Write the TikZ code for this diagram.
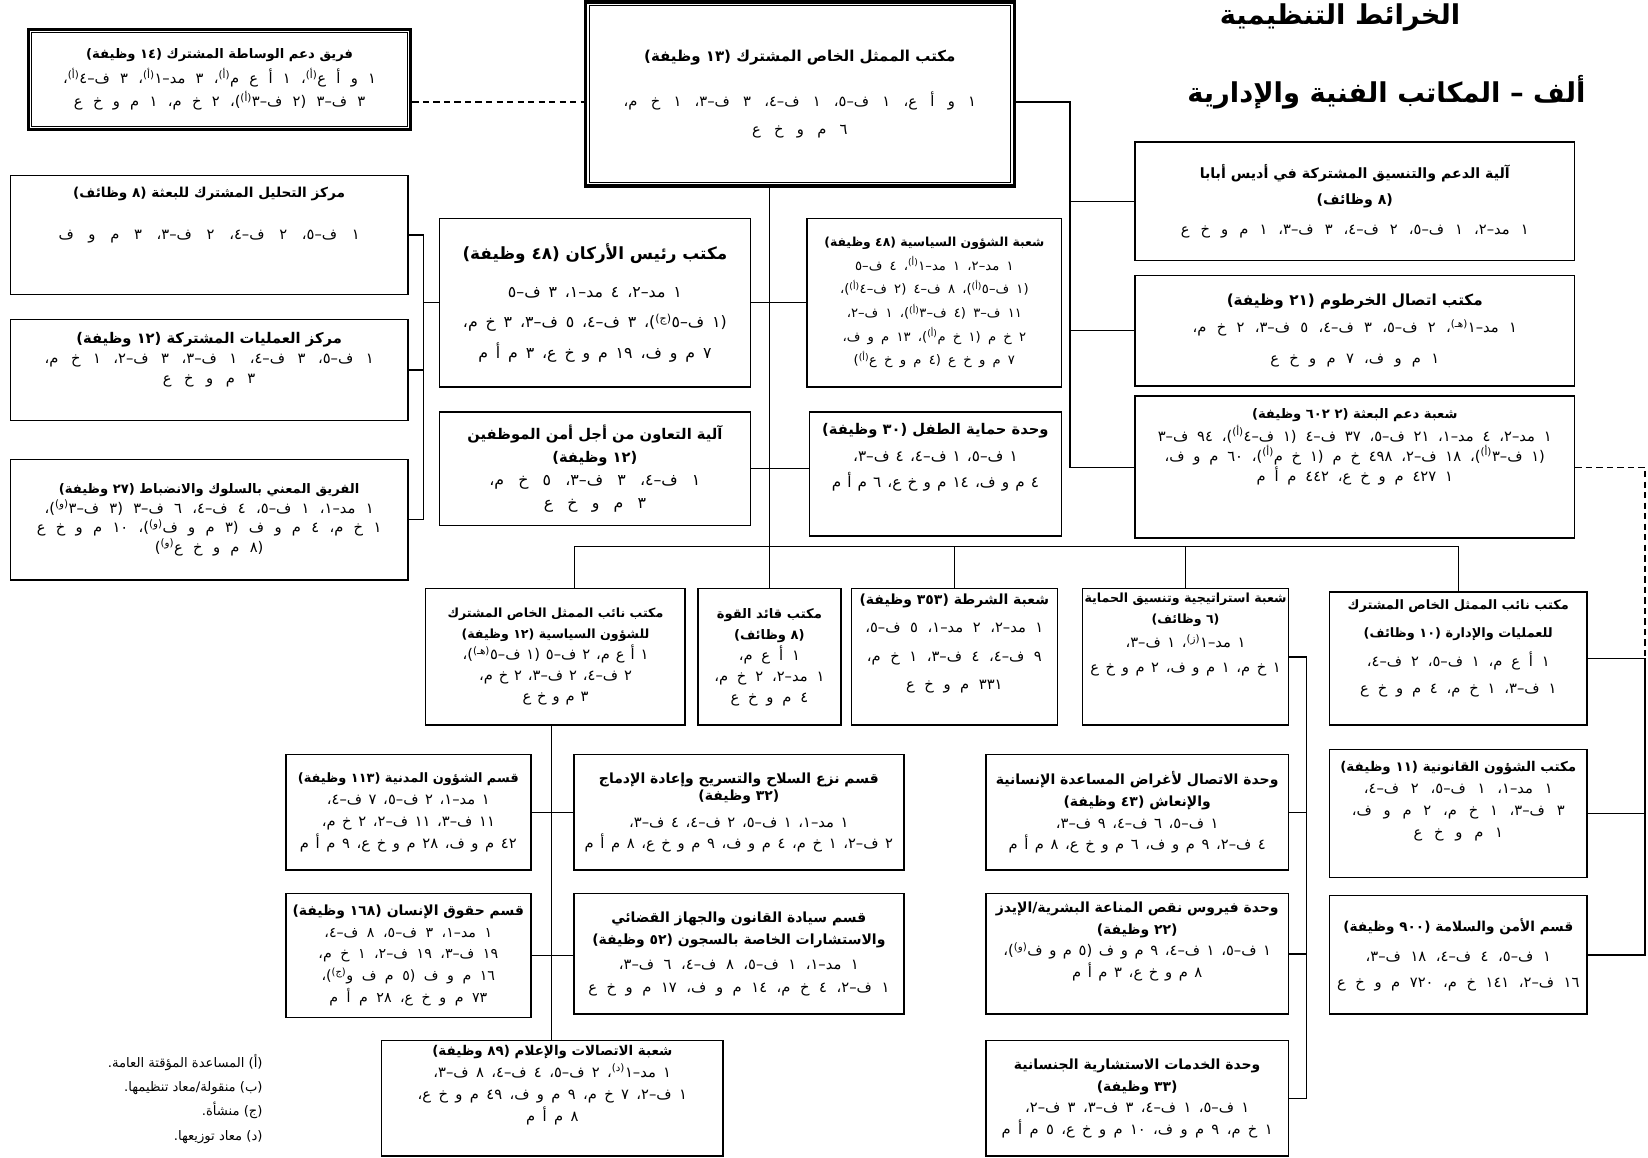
\documentclass[tikz,border=0pt]{standalone}
\usepackage{fontspec}
\newfontfamily\arf[Script=Arabic]{DejaVu Sans}
\TeXXeTstate=1
\newcommand\rl[1]{\beginR #1\endR}
\newcommand\ttl[2][12.5]{{\fontsize{#1}{#1}\selectfont\bfseries\spaceskip=0pt\relax\beginR #2\endR}}
\newcommand\fnm[1]{\textsuperscript{(#1)}}
\newcommand\bfnt[3]{\arf\fontsize{#1}{#2}\selectfont\spaceskip=#3em plus .1em minus .05em\relax}
\begin{document}
\begin{tikzpicture}[x=1pt, y=-1pt,
    box/.style={draw, line width=1.5pt, inner sep=1pt, align=center, font=\bfnt{14}{19}{0.6}},
    dbox/.style={box, line width=2.8pt},
    conn/.style={line width=1.3pt},
    dconn/.style={line width=1.3pt, dash pattern=on 6pt off 4pt}]
  \path[fill=white] (0,0) rectangle (1568,1101);
  \useasboundingbox (0,0) rectangle (1568,1101);

  \node (ttla) [font=\arf\bfseries\fontsize{26}{30}\selectfont] at (1275,17) {\rl{الخرائط التنظيمية}};
  \node (ttlb) [font=\arf\bfseries\fontsize{26}{30}\selectfont, anchor=east] at (1512,88) {\rl{ألف –  المكاتب الفنية والإدارية}};

  \node (med) [dbox, font=\bfnt{14}{22}{0.7}, minimum width=364pt, minimum height=95pt] at (209,75.5) {\ttl[12.5]{فريق دعم الوساطة المشترك (١٤ وظيفة)}\\[2pt]
    \rl{١ و أ ع\fnm{أ}، ١ أ ع م\fnm{أ}، ٣ مد–١\fnm{أ}، ٣ ف–٤\fnm{أ}،}\\
    \rl{٣ ف–٣ (٢ ف–٣\fnm{أ})، ٢ خ م، ١ م و خ ع}};
  \node (main) [dbox, line width=3.2pt, font=\bfnt{14}{19}{0.9}, minimum width=408pt, minimum height=175pt] at (761,89.5) {\ttl[14.3]{مكتب الممثل الخاص المشترك (١٣ وظيفة)}\\[24pt]
    \rl{١ و أ ع، ١ ف–٥، ١ ف–٤، ٣ ف–٣، ١ خ م،}\\[8pt]
    \rl{٦ م و خ ع}};

  \node (anal) [box, font=\bfnt{14}{19}{1.0}, minimum width=378pt, minimum height=113pt] at (199,223.5) {\ttl[13]{مركز التحليل المشترك للبعثة (٨ وظائف)}\\[21pt]
    \rl{١ ف–٥، ٢ ف–٤، ٢ ف–٣، ٣ م و ف}\\[22pt]};
  \node (jops) [box, font=\bfnt{14}{19}{0.85}, minimum width=378pt, minimum height=96pt] at (199,352) {\ttl[14]{مركز العمليات المشتركة (١٢ وظيفة)}\\
    \rl{١ ف–٥، ٣ ف–٤، ١ ف–٣، ٣ ف–٢، ١ خ م،}\\
    \rl{٣ م و خ ع}\\[4pt]};
  \node (cdt) [box, font=\bfnt{14}{18.5}{0.7}, minimum width=378pt, minimum height=115pt] at (199,494.5) {\ttl[12.5]{الفريق المعني بالسلوك والانضباط (٢٧ وظيفة)}\\
    \rl{١ مد–١، ١ ف–٥، ٤ ف–٤، ٦ ف–٣ (٣ ف–٣\fnm{و})،}\\
    \rl{١ خ م، ٤ م و ف (٣ م و ف\fnm{و})، ١٠ م و خ ع}\\
    \rl{(٨ م و خ ع\fnm{و})}};

  \node (cos) [box, font=\bfnt{15}{21}{0.5}, minimum width=296pt, minimum height=160pt] at (566,288) {\ttl[16]{مكتب رئيس الأركان (٤٨ وظيفة)}\\[15pt]
    \rl{١ مد–٢، ٤ مد–١، ٣ ف–٥}\\[8pt]
    \rl{(١ ف–٥\fnm{ج})، ٣ ف–٤، ٥ ف–٣، ٣ خ م،}\\[8pt]
    \rl{٧ م و ف، ١٩ م و خ ع، ٣ م أ م}};
  \node (pa) [box, font=\bfnt{12.5}{22.5}{0.55}, minimum width=242pt, minimum height=160pt] at (889,288) {\ttl[11.8]{شعبة الشؤون السياسية (٤٨ وظيفة)}\\
    \rl{١ مد–٢، ١ مد–١\fnm{أ}، ٤ ف–٥}\\
    \rl{(١ ف–٥\fnm{أ})، ٨ ف–٤ (٢ ف–٤\fnm{أ})،}\\
    \rl{١١ ف–٣ (٤ ف–٣\fnm{أ})، ١ ف–٢،}\\
    \rl{٢ خ م (١ خ م\fnm{أ})، ١٣ م و ف،}\\
    \rl{٧ م و خ ع (٤ م و خ ع\fnm{أ})}};
  \node (ssm) [box, font=\bfnt{15}{22}{0.9}, minimum width=296pt, minimum height=108pt] at (566,446) {\ttl[14]{آلية التعاون من أجل أمن الموظفين}\\
    \ttl[14]{(١٢ وظيفة)}\\
    \rl{١ ف–٤، ٣ ف–٣، ٥ خ م،}\\
    \rl{٣ م و خ ع}};
  \node (cpu) [box, font=\bfnt{14.5}{25}{0.4}, minimum width=240pt, minimum height=118pt] at (890,451) {\ttl[14]{وحدة حماية الطفل (٣٠ وظيفة)}\\
    \rl{١ ف–٥، ١ ف–٤، ٤ ف–٣،}\\
    \rl{٤ م و ف، ١٤ م و خ ع، ٦ م أ م}\\[10pt]};

  \node (addis) [box, font=\bfnt{14}{19}{0.75}, minimum width=418pt, minimum height=113pt] at (1289,191.5) {\ttl[13.5]{آلية الدعم والتنسيق المشتركة في أديس أبابا}\\[6pt]
    \ttl[13.5]{(٨ وظائف)}\\[10pt]
    \rl{١ مد–٢، ١ ف–٥، ٢ ف–٤، ٣ ف–٣، ١ م و خ ع}};
  \node (khart) [box, font=\bfnt{14}{19}{0.7}, minimum width=418pt, minimum height=105pt] at (1289,314.5) {\ttl[14.5]{مكتب اتصال الخرطوم (٢١ وظيفة)}\\[7pt]
    \rl{١ مد–١\fnm{هـ}، ٢ ف–٥، ٣ ف–٤، ٥ ف–٣، ٢ خ م،}\\[10pt]
    \rl{١ م و ف، ٧ م و خ ع}};
  \node (msd) [box, font=\bfnt{14}{19}{0.6}, minimum width=418pt, minimum height=135pt] at (1289,444.5) {\ttl[12.5]{شعبة دعم البعثة (٢ ٦٠٢ وظيفة)}\\[3pt]
    \rl{١ مد–٢، ٤ مد–١، ٢١ ف–٥، ٣٧ ف–٤ (١ ف–٤\fnm{أ})، ٩٤ ف–٣}\\
    \rl{(١ ف–٣\fnm{أ})، ١٨ ف–٢، ٤٩٨ خ م (١ خ م\fnm{أ})، ٦٠ م و ف،}\\
    \rl{١ ٤٢٧ م و خ ع، ٤٤٢ م أ م}\\[24pt]};

  \node (dpol) [box, font=\bfnt{14}{20}{0.4}, minimum width=247pt, minimum height=130pt] at (528.5,625) {\ttl[12]{مكتب نائب الممثل الخاص المشترك}\\
    \ttl[12]{للشؤون السياسية (١٢ وظيفة)}\\
    \rl{١ أ ع م، ٢ ف–٥ (١ ف–٥\fnm{هـ})،}\\
    \rl{٢ ف–٤، ٢ ف–٣، ٢ خ م،}\\
    \rl{٣ م و خ ع}};
  \node (fc) [box, font=\bfnt{14}{20}{0.6}, minimum width=136pt, minimum height=130pt] at (732,625) {\ttl[12.5]{مكتب قائد القوة}\\
    \ttl[12.5]{(٨ وظائف)}\\
    \rl{١ أ ع م،}\\
    \rl{١ مد–٢، ٢ خ م،}\\
    \rl{٤ م و خ ع}};
  \node (pol) [box, font=\bfnt{14}{19}{0.65}, minimum width=196pt, minimum height=130pt] at (908,625) {\ttl[13.3]{شعبة الشرطة (٣٥٣ وظيفة)}\\[8pt]
    \rl{١ مد–٢، ٢ مد–١، ٥ ف–٥،}\\[8pt]
    \rl{٩ ف–٤، ٤ ف–٣، ١ خ م،}\\[8pt]
    \rl{٣٣١ م و خ ع}\\[10pt]};
  \node (spc) [box, font=\bfnt{14}{20}{0.45}, minimum width=196pt, minimum height=130pt] at (1128,625) {\ttl[12]{شعبة استراتيجية وتنسيق الحماية}\\
    \ttl[12]{(٦ وظائف)}\\[3pt]
    \rl{١ مد–١\fnm{ز}، ١ ف–٣،}\\[4pt]
    \rl{١ خ م، ١ م و ف، ٢ م و خ ع}\\[26pt]};
  \node (dops) [box, font=\bfnt{14}{19}{0.6}, minimum width=245pt, minimum height=127pt] at (1387.5,626.5) {\ttl[12.3]{مكتب نائب الممثل الخاص المشترك}\\[8pt]
    \ttl[12.3]{للعمليات والإدارة (١٠ وظائف)}\\[8pt]
    \rl{١ أ ع م، ١ ف–٥، ٢ ف–٤،}\\[7pt]
    \rl{١ ف–٣، ١ خ م، ٤ م و خ ع}\\[4pt]};

  \node (civ) [box, font=\bfnt{14}{21}{0.45}, minimum width=233pt, minimum height=110pt] at (388.5,773) {\ttl[12.3]{قسم الشؤون المدنية (١١٣ وظيفة)}\\
    \rl{١ مد–١، ٢ ف–٥، ٧ ف–٤،}\\
    \rl{١١ ف–٣، ١١ ف–٢، ٢ خ م،}\\
    \rl{٤٢ م و ف، ٢٨ م و خ ع، ٩ م أ م}};
  \node (ddr) [box, font=\bfnt{14}{20}{0.45}, minimum width=314pt, minimum height=110pt] at (703,773) {\ttl[13.3]{قسم نزع السلاح والتسريح وإعادة الإدماج}\\[-4pt]
    \ttl[13.3]{(٣٢ وظيفة)}\\[6pt]
    \rl{١ مد–١، ١ ف–٥، ٢ ف–٤، ٤ ف–٣،}\\
    \rl{٢ ف–٢، ١ خ م، ٤ م و ف، ٩ م و خ ع، ٨ م أ م}};
  \node (hr) [box, font=\bfnt{13.5}{20.5}{0.6}, minimum width=233pt, minimum height=118pt] at (388.5,909) {\ttl[13.3]{قسم حقوق الإنسان (١٦٨ وظيفة)}\\
    \rl{١ مد–١، ٣ ف–٥، ٨ ف–٤،}\\
    \rl{١٩ ف–٣، ١٩ ف–٢، ١ خ م،}\\
    \rl{١٦ م و ف (٥ م ف و\fnm{ج})،}\\
    \rl{٧٣ م و خ ع، ٢٨ م أ م}};
  \node (rol) [box, font=\bfnt{14}{21}{0.65}, minimum width=314pt, minimum height=115pt] at (703,907.5) {\ttl[13.3]{قسم سيادة القانون والجهاز القضائي}\\
    \ttl[13.3]{والاستشارات الخاصة بالسجون (٥٢ وظيفة)}\\[3pt]
    \rl{١ مد–١، ١ ف–٥، ٨ ف–٤، ٦ ف–٣،}\\
    \rl{١ ف–٢، ٤ خ م، ١٤ م و ف، ١٧ م و خ ع}};
  \node (pio) [box, font=\bfnt{14}{21}{0.5}, minimum width=325pt, minimum height=110pt] at (525.5,1045) {\ttl[12.8]{شعبة الاتصالات والإعلام (٨٩ وظيفة)}\\
    \rl{١ مد–١\fnm{د}، ٢ ف–٥، ٤ ف–٤، ٨ ف–٣،}\\
    \rl{١ ف–٢، ٧ خ م، ٩ م و ف، ٤٩ م و خ ع،}\\
    \rl{٨ م أ م}\\[8pt]};

  \node (hum) [box, font=\bfnt{14}{20.5}{0.45}, minimum width=288pt, minimum height=110pt] at (1082,773) {\ttl[13.3]{وحدة الاتصال لأغراض المساعدة الإنسانية}\\
    \ttl[13.3]{والإنعاش (٤٣ وظيفة)}\\
    \rl{١ ف–٥، ٦ ف–٤، ٩ ف–٣،}\\
    \rl{٤ ف–٢، ٩ م و ف، ٦ م و خ ع، ٨ م أ م}};
  \node (hiv) [box, font=\bfnt{14}{20.5}{0.45}, minimum width=288pt, minimum height=115pt] at (1082,907.5) {\ttl[13.3]{وحدة فيروس نقص المناعة البشرية/الإيدز}\\
    \ttl[13.3]{(٢٢ وظيفة)}\\
    \rl{١ ف–٥، ١ ف–٤، ٩ م و ف (٥ م و ف\fnm{و})،}\\
    \rl{٨ م و خ ع، ٣ م أ م}\\[6pt]};
  \node (gas) [box, font=\bfnt{14}{20.5}{0.5}, minimum width=288pt, minimum height=110pt] at (1082,1045) {\ttl[13.3]{وحدة الخدمات الاستشارية الجنسانية}\\
    \ttl[13.3]{(٣٣ وظيفة)}\\
    \rl{١ ف–٥، ١ ف–٤، ٣ ف–٣، ٣ ف–٢،}\\
    \rl{١ خ م، ٩ م و ف، ١٠ م و خ ع، ٥ م أ م}};
  \node (leg) [box, font=\bfnt{14}{21}{0.8}, minimum width=245pt, minimum height=122pt] at (1387.5,774) {\ttl[12.8]{مكتب الشؤون القانونية (١١ وظيفة)}\\
    \rl{١ مد–١، ١ ف–٥، ٢ ف–٤،}\\
    \rl{٣ ف–٣، ١ خ م، ٢ م و ف،}\\
    \rl{١ م و خ ع}\\[6pt]};
  \node (sec) [box, font=\bfnt{14}{19}{0.65}, minimum width=245pt, minimum height=113pt] at (1387.5,908.5) {\ttl[13]{قسم الأمن والسلامة (٩٠٠ وظيفة)}\\[9pt]
    \rl{١ ف–٥، ٤ ف–٤، ١٨ ف–٣،}\\[6pt]
    \rl{١٦ ف–٢، ١٤١ خ م، ٧٢٠ م و خ ع}};

  \node (notes) [font=\arf\fontsize{12.5}{23}\selectfont, align=right, anchor=north east, inner sep=0pt] at (250,1003) {\rl{(أ) المساعدة المؤقتة العامة.}\\
    \rl{(ب) منقولة/معاد تنظيمها.}\\
    \rl{(ج) منشأة.}\\
    \rl{(د) معاد توزيعها.}};

  \draw[line width=0.8pt] ([shift={(4.5pt,-4.5pt)}]med.north west) rectangle ([shift={(-4.5pt,4.5pt)}]med.south east);
  \draw[line width=0.8pt] ([shift={(5pt,-5pt)}]main.north west) rectangle ([shift={(-5pt,5pt)}]main.south east);

  \coordinate (dj) at (0,97);
  \coordinate (rv) at (1018,97);
  \coordinate (lv) at (403,0);
  \coordinate (bus) at (0,520);
  \coordinate (sv) at (1243,0);
  \coordinate (fr) at (1565,0);

  \draw[dconn] (med.east |- dj) -- (main.west |- dj);
  \draw[conn] (main.east |- rv) -- (rv) -- (rv |- msd.west) -- (msd.west);
  \draw[conn] (rv |- addis.west) -- (addis.west);
  \draw[conn] (rv |- khart.west) -- (khart.west);

  \draw[conn] (anal.east) -- (anal.east -| lv) -- (cdt.east -| lv) -- (cdt.east);
  \draw[conn] (jops.east) -- (jops.east -| lv);
  \draw[conn] (cos.west -| lv) -- (cos.west);

  \draw[conn] (main.south -| fc.north) -- (fc.north);
  \draw[conn] (cos.east) -- (pa.west);
  \draw[conn] (ssm.east) -- (ssm.east -| cpu.west);

  \draw[conn] ([xshift=18pt]dpol.north) -- ([xshift=18pt]dpol.north |- bus) -- (dops.north |- bus) -- (dops.north);
  \draw[conn] (pol.north |- bus) -- (pol.north);
  \draw[conn] (spc.north |- bus) -- (spc.north);

  \draw[conn] ([xshift=-4pt]dpol.south) -- ([xshift=-4pt]dpol.south |- pio.north);
  \draw[conn] (civ.east) -- (civ.east -| ddr.west);
  \draw[conn] (hr.east) -- (hr.east -| rol.west);

  \draw[conn] (spc.east) -- (spc.east -| sv) -- (sv |- gas.east) -- (gas.east);
  \draw[conn] (hum.east) -- (hum.east -| sv);
  \draw[conn] (hiv.east) -- (hiv.east -| sv);

  \draw[dconn] (msd.east) -- (msd.east -| fr) -- (fr |- dops.east);
  \draw[conn] (dops.east) -- (dops.east -| fr) -- (fr |- sec.east) -- (sec.east);
  \draw[conn] (leg.east) -- (leg.east -| fr);
\end{tikzpicture}
\end{document}
